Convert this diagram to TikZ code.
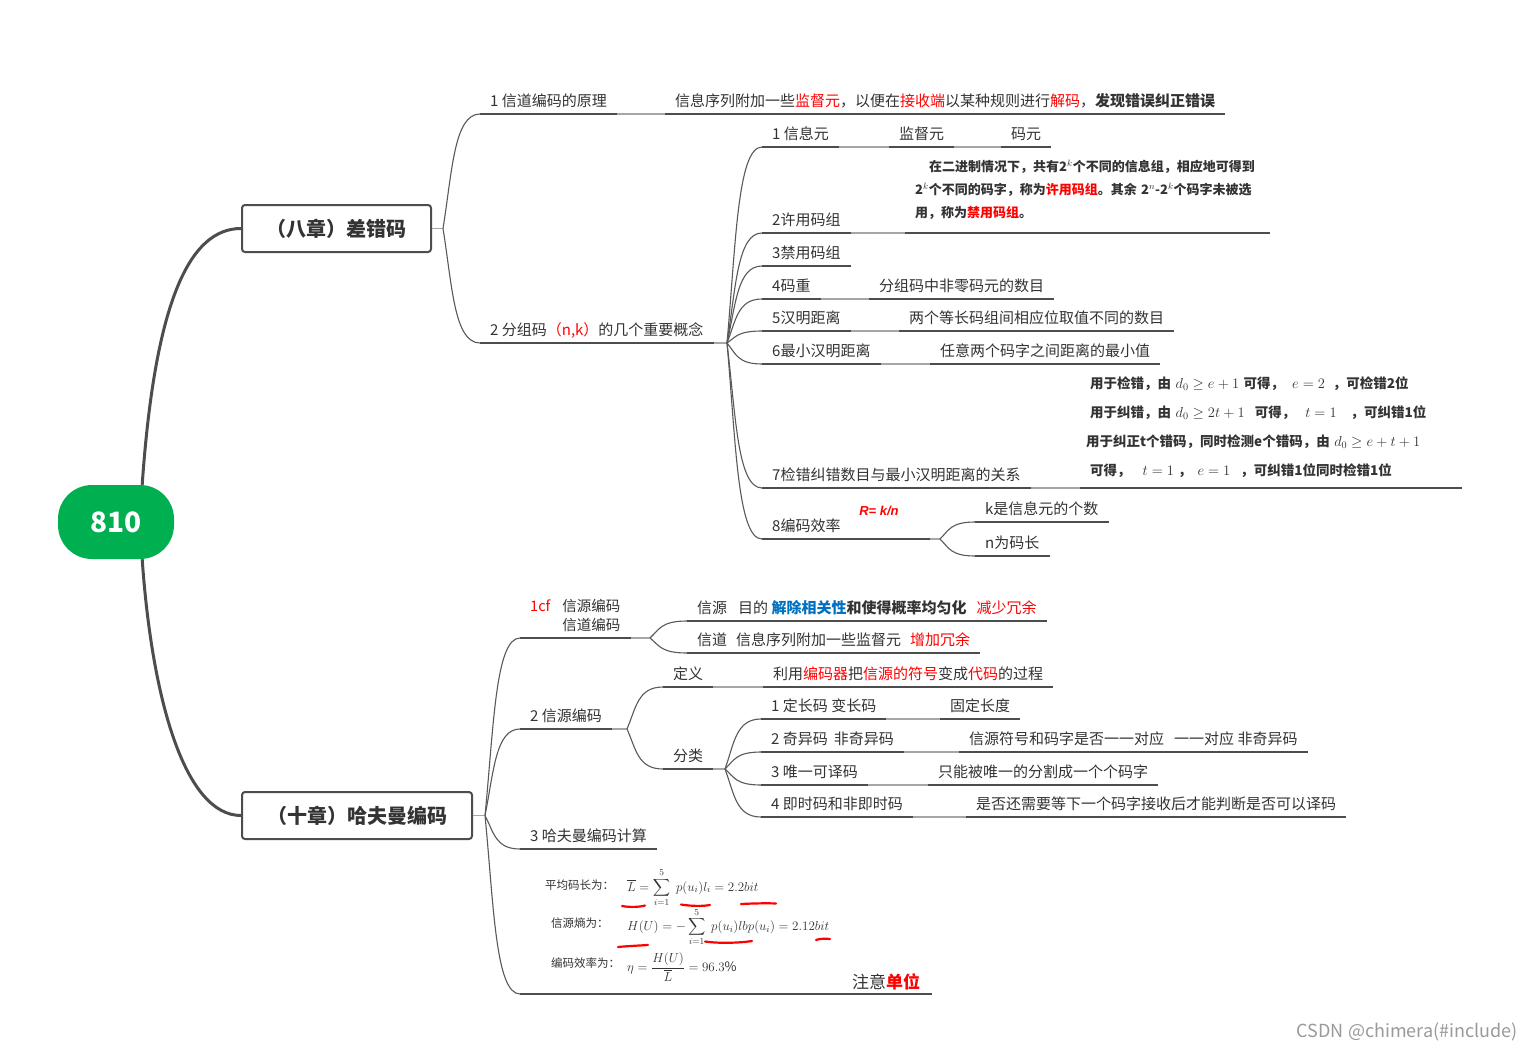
\RequirePackage{fix-cm}
\documentclass[tikz,border=0pt]{standalone}
\usepackage{amsmath}
\usepackage{exscale}
\usepackage{fontspec}
\setmainfont{Noto Sans CJK SC}
\newfontfamily\lsans{Liberation Sans}
\usetikzlibrary{calc}
\definecolor{ink}{HTML}{333333}
\definecolor{ul}{HTML}{4D4D4D}
\definecolor{lg}{HTML}{A6A6A6}
\definecolor{cvc}{HTML}{595959}
\definecolor{rootg}{HTML}{00B050}
\definecolor{rd}{HTML}{FF0000}
\definecolor{bl}{HTML}{0070C0}
\definecolor{wmc}{HTML}{9A9A9A}
\newcommand\hlr[1]{{\color{rd}#1}}
\newcommand\hlb[1]{{\color{bl}#1}}
\newcommand\mth[1]{{\fontsize{14.5}{29}\selectfont$#1$}}
\newcommand\sumfive{\mathop{\smash{\displaystyle\sum_{i=1}^{5}}\vphantom{\sum}}}
\tikzset{
  every node/.style={text=ink},
  uline/.style={draw=ul, line width=2pt},
  lc/.style={draw=lg, line width=1.6pt},
  cvl/.style={draw=cvc, line width=1.1pt},
  trunk/.style={draw=ul, line width=3pt},
  redmk/.style={draw=rd, line width=2.2pt, line cap=round},
  topic/.style={anchor=south west, inner xsep=10pt, inner ysep=0pt, text depth=7.5pt,
    font=\fontsize{15}{18}\selectfont,
    append after command={(\tikzlastnode.south west) edge[uline] (\tikzlastnode.south east)}},
  mtopic/.style={anchor=south west, inner xsep=10pt, align=left,
    append after command={(\tikzlastnode.south west) edge[uline] (\tikzlastnode.south east)}},
  chap/.style={draw=ul, line width=2pt, rounded corners=3pt, fill=white, inner sep=0pt,
    font=\bfseries\fontsize{20}{24}\selectfont},
  rootbox/.style={fill=rootg, rounded corners=34pt, minimum width=116pt, minimum height=74pt,
    inner sep=0pt, text=white, font=\bfseries\fontsize{28}{30}\selectfont},
  br/.style={to path={let \p1=(\tikztostart), \p2=(\tikztotarget) in
    .. controls ({\x1+0.25*(\x2-\x1)},{\y1+0.5*(\y2-\y1)}) and ({\x1+0.3*(\x2-\x1)},\y2) .. (\p2)}},
  flab/.style={anchor=west, inner sep=0pt, font=\fontsize{11.5}{14}\selectfont},
  fml/.style={anchor=west, inner sep=0pt, font=\fontsize{13}{15}\selectfont},
}
\begin{document}
\begin{tikzpicture}[x=1pt,y=-1pt]
\fill[white] (0,0) rectangle (1532,1052);
\useasboundingbox (0,0) rectangle (1532,1052);

% root and chapters
\node[rootbox] (root) at (116,522) {810};
\node[chap, minimum width=189pt, minimum height=47pt] (ch8) at (336.5,228.5) {（八章）差错码};
\node[chap, minimum width=230pt, minimum height=47pt] (ch10) at (357,815.5) {（十章）哈夫曼编码};
\draw[trunk] ($(root.north)!0.45!(root.north east)$) .. controls (155,300) and (190,228.5) .. (ch8.west);
\draw[trunk] ($(root.south)!0.45!(root.south east)$) .. controls (152,700) and (185,815.5) .. (ch10.west);

% ---------- chapter 8 ----------
\coordinate (J8) at (443,228.5);
\draw[lc, line width=1.4pt] (ch8.east) -- (J8);
\node[topic] (t81) at (480,114) {1 信道编码的原理};
\node[topic] (t81d) at (665,114) {信息序列附加一些\hlr{监督元}，以便在\hlr{接收端}以某种规则进行\hlr{解码}，\textbf{发现错误纠正错误}};
\draw[lc] (t81.south east) -- (t81d.south west);
\node[topic] (t82) at (480,343) {2 分组码\hlr{（n,k）}的几个重要概念};
\draw[cvl] (J8) to[br] (t81.south west);
\draw[cvl] (J8) to[br] (t82.south west);

\coordinate (J82) at (727,343);
\draw[lc] (t82.south east) -- (J82);

\node[topic] (a1) at (762,147) {1 信息元};
\node[topic] (a1b) at (889,147) {监督元};
\node[topic] (a1c) at (1001,147) {码元};
\draw[lc] (a1.south east) -- (a1b.south west);
\draw[lc] (a1b.south east) -- (a1c.south west);

\node[topic] (a2) at (762,233) {2许用码组};
\node[mtopic, text width=345pt, inner ysep=13.5pt, font=\bfseries\fontsize{13}{23}\selectfont] (p2) at (905,233)
  {\hspace*{14pt}在二进制情况下，共有2$^k$个不同的信息组，相应地可得到\\
   2$^k$个不同的码字，称为\hlr{许用码组}。其余 2$^n$-2$^k$个码字未被选\\
   用，称为\hlr{禁用码组}。};
\draw[lc] (a2.south east) -- (p2.south west);

\node[topic] (a3) at (762,266) {3禁用码组};

\node[topic] (a4) at (762,299) {4码重};
\node[topic] (a4d) at (869,299) {分组码中非零码元的数目};
\draw[lc] (a4.south east) -- (a4d.south west);

\node[topic] (a5) at (762,331) {5汉明距离};
\node[topic] (a5d) at (899,331) {两个等长码组间相应位取值不同的数目};
\draw[lc] (a5.south east) -- (a5d.south west);

\node[topic] (a6) at (762,364) {6最小汉明距离};
\node[topic] (a6d) at (930,364) {任意两个码字之间距离的最小值};
\draw[lc] (a6.south east) -- (a6d.south west);

\node[topic] (a7) at (762,488) {7检错纠错数目与最小汉明距离的关系};
\node[mtopic, text width=362pt, inner ysep=10pt, font=\bfseries\fontsize{13.5}{29}\selectfont] (m7) at (1080,488)
  {用于检错，由 \mth{d_0\ge e+1} 可得，\hspace{8pt}\mth{e=2}\hspace{8pt}，可检错2位\\
   用于纠错，由 \mth{d_0\ge 2t+1}\hspace{10pt}可得，\hspace{10pt}\mth{t=1}\hspace{14pt}，可纠错1位\\
   \hspace*{-4pt}用于纠正t个错码，同时检测e个错码，由 \mth{d_0\ge e+t+1}\\
   可得，\hspace{12pt}\mth{t=1}\hspace{4pt}，\hspace{6pt}\mth{e=1}\hspace{10pt}，可纠错1位同时检错1位};
\draw[lc] (a7.south east) -- (m7.south west);

\node[topic] (a8) at (762,539) {8编码效率};
\node[inner sep=0pt, font=\lsans\bfseries\itshape\fontsize{13}{15}\selectfont, text=rd] (rkn) at (879,511) {R= k/n};
\coordinate (J88) at (940,539);
\draw[uline] (a8.south east) -- ($(J88)+(-10,0)$);
\draw[lc] ($(J88)+(-10,0)$) -- (J88);
\node[topic] (k8) at (975,522) {k是信息元的个数};
\node[topic] (n8) at (975,556) {n为码长};
\draw[cvl] (J88) to[br] (k8.south west);
\draw[cvl] (J88) to[br] (n8.south west);

\foreach \t in {a1,a2,a3,a4,a5,a6,a7,a8}
  \draw[cvl] (J82) to[br] (\t.south west);

% ---------- chapter 10 ----------
\coordinate (J10) at (485,815.5);
\draw[lc, line width=1.4pt] (ch10.east) -- (J10);

\node[mtopic, align=right, inner ysep=6.5pt, font=\fontsize{14.5}{19}\selectfont] (b1) at (520,638)
  {\hlr{1cf}\hspace{12pt}信源编码\\信道编码};
\coordinate (Jb1) at (650,638);
\draw[lc] (b1.south east) -- (Jb1);
\node[topic] (b1s) at (687,621) {信源\hspace{11pt}目的 \textbf{\hlb{解除相关性}和使得概率均匀化}\hspace{10pt}\hlr{减少冗余}};
\node[topic] (b1c) at (687,653) {信道\hspace{9pt}信息序列附加一些监督元\hspace{9pt}\hlr{增加冗余}};
\draw[cvl] (Jb1) to[br] (b1s.south west);
\draw[cvl] (Jb1) to[br] (b1c.south west);

\node[topic] (b2) at (520,729) {2 信源编码};
\coordinate (Jb2) at (627,729);
\draw[lc] (b2.south east) -- (Jb2);
\node[topic] (c1) at (663,687) {定义};
\node[topic] (c1d) at (763,687) {利用\hlr{编码器}把\hlr{信源的符号}变成\hlr{代码}的过程};
\draw[lc] (c1.south east) -- (c1d.south west);
\node[topic] (c2) at (663,769) {分类};
\coordinate (Jc2) at (725,769);
\draw[lc] (c2.south east) -- (Jc2);
\draw[cvl] (Jb2) to[br] (c1.south west);
\draw[cvl] (Jb2) to[br] (c2.south west);

\node[topic] (d1) at (761,719) {1 定长码 变长码};
\node[topic] (d1d) at (940,719) {固定长度};
\node[topic] (d2) at (761,752) {2 奇异码\hspace{6pt}非奇异码};
\node[topic] (d2d) at (959,752) {信源符号和码字是否一一对应\hspace{10pt}一一对应 非奇异码};
\node[topic] (d3) at (761,785) {3 唯一可译码};
\node[topic] (d3d) at (928,785) {只能被唯一的分割成一个个码字};
\node[topic] (d4) at (761,817) {4 即时码和非即时码};
\node[topic] (d4d) at (966,817) {是否还需要等下一个码字接收后才能判断是否可以译码};
\foreach \t in {d1,d2,d3,d4} {
  \draw[lc] (\t.south east) -- (\t d.south west);
  \draw[cvl] (Jc2) to[br] (\t.south west);
}

\node[topic] (b3) at (520,849) {3 哈夫曼编码计算};

\coordinate (b4) at (520,994);
\draw[uline] (b4) -- +(412,0);

\foreach \t in {b1.south west,b2.south west,b3.south west,b4}
  \draw[cvl] (J10) to[br] (\t);

% formulas
\node[flab] (f1l) at (545,885) {平均码长为：};
\node[fml] (f1) at (627,887) {$\overline{L}=\sumfive\;p(u_i)l_i=2.2bit$};
\node[flab] (f2l) at (551,923) {信源熵为：};
\node[fml] (f2) at (627,927) {$H(U)=-\sumfive\;p(u_i)lbp(u_i)=2.12bit$};
\node[flab] (f3l) at (551,963) {编码效率为：};
\node[fml] (f3) at (627,967) {$\displaystyle\eta=\frac{H(U)}{\overline{L}}=96.3\%$};
\node[anchor=base west, inner sep=0pt, font=\fontsize{17}{20}\selectfont] (note) at (852,988) {注意\textbf{\hlr{单位}}};

% red hand marks
\draw[redmk] (622,906) .. controls (630,907.5) and (640,907) .. (645,905.5);
\draw[redmk] (681,904.5) .. controls (690,906) and (702,906.5) .. (710,905);
\draw[redmk] (741,904) .. controls (752,903.5) and (766,903) .. (776,903.5);
\draw[redmk] (618,947) .. controls (628,946) and (640,945.5) .. (648,945);
\draw[redmk] (705,941.5) .. controls (718,943.5) and (740,943) .. (752,941);
\draw[redmk] (816,940) .. controls (820,938.5) and (825,938.5) .. (830,939);

% watermark
\node[anchor=east, inner sep=0pt, text=wmc, font=\fontsize{18}{20}\selectfont] (wm) at (1518,1032) {CSDN @chimera(\#include)};
\end{tikzpicture}
\end{document}
